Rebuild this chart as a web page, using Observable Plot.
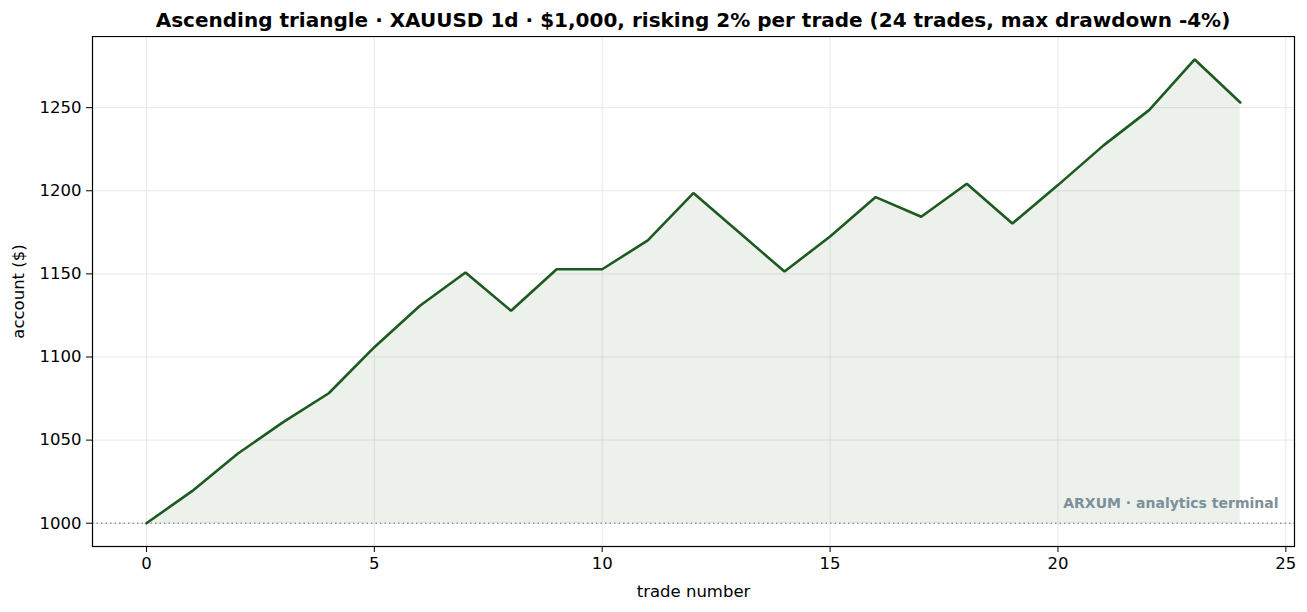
<!DOCTYPE html>
<html>
<head>
<meta charset="utf-8">
<script src="https://cdn.jsdelivr.net/npm/d3@7"></script>
<script src="https://cdn.jsdelivr.net/npm/@observablehq/plot@0.6"></script>
<style>
  body { margin: 0; background: #fff; font-family: "DejaVu Sans", sans-serif; }
  #title { height: 36px; box-sizing: border-box; padding: 9px 13px 0 92px; text-align: center;
           font-weight: bold; font-size: 20px; line-height: 22px; color: #000; white-space: nowrap; }
</style>
</head>
<body>
<div id="title">Ascending triangle · XAUUSD 1d · $1,000, risking 2% per trade (24 trades, max drawdown -4%)</div>
<div id="chart"></div>
<script>
const trades = [0,1,2,3,4,5,6,7,8,9,10,11,12,13,14,15,16,17,18,19,20,21,22,23,24];
const equity = [1000,1019.3,1041.8,1060.8,1078.2,1105.9,1130.8,1150.8,1127.8,1152.8,1152.8,1170.1,1198.6,1175.0,1151.4,1172.5,1196.2,1184.4,1204.2,1180.3,1203.4,1227.3,1248.5,1279.0,1253.1];
const xTicks = [0,5,10,15,20,25];
const yTicks = [1000,1050,1100,1150,1200,1250];
const startBalance = 1000;
const watermark = "ARXUM · analytics terminal";

const data = trades.map((t, i) => ({trade: t, equity: equity[i]}));
const green = "#1d5a1f";
const grid = "#e8e8e8";

const chart = Plot.plot({
  width: 1307,
  height: 576,
  marginTop: 0,
  marginBottom: 66,
  marginLeft: 92,
  marginRight: 13,
  style: {fontFamily: "DejaVu Sans, sans-serif", fontSize: "16.5px", color: "#000", background: "#fff"},
  x: {domain: [-1.184, 25.19]},
  y: {domain: [986.0, 1292.8]},
  marks: [
    Plot.gridX(xTicks, {stroke: grid, strokeOpacity: 1, strokeWidth: 1}),
    Plot.gridY(yTicks, {stroke: grid, strokeOpacity: 1, strokeWidth: 1}),
    Plot.areaY(data, {x: "trade", y1: startBalance, y2: "equity", fill: green, fillOpacity: 0.085}),
    Plot.ruleY([startBalance], {stroke: "#8c959b", strokeWidth: 1.3, strokeDasharray: "1.5,3"}),
    Plot.lineY(data, {x: "trade", y: "equity", stroke: green, strokeWidth: 2.6, strokeLinejoin: "miter"}),
    Plot.text([watermark], {frameAnchor: "bottom-right", textAnchor: "end", lineAnchor: "middle",
      dx: -16, dy: -43, fill: "#7d8f99", fontWeight: "bold", fontSize: 14}),
    Plot.axisX(xTicks, {tickSize: 6, tickPadding: 5, tickFormat: d => String(d), label: "trade number",
      labelAnchor: "center", labelArrow: "none", labelOffset: 50, fontSize: 16.5}),
    Plot.axisY(yTicks, {tickSize: 6, tickPadding: 5, tickFormat: d => String(d), label: "account ($)",
      labelAnchor: "center", labelArrow: "none", labelOffset: 80, fontSize: 16.5}),
    Plot.frame({stroke: "#000", strokeWidth: 1.2})
  ]
});
document.getElementById("chart").appendChild(chart);
</script>
</body>
</html>
